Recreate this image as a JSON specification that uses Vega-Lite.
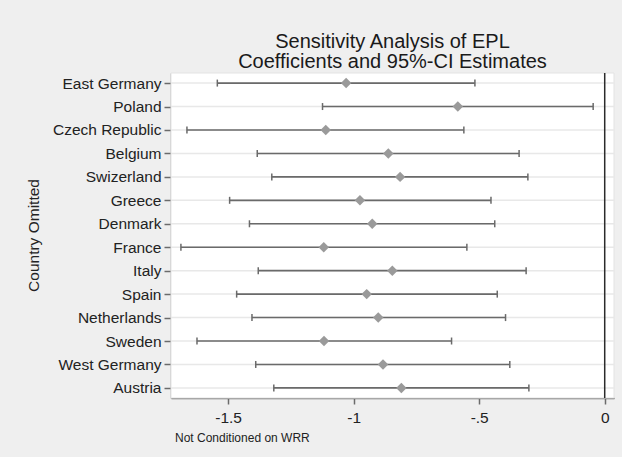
{
  "$schema": "https://vega.github.io/schema/vega-lite/v6.json",
  "width": 443,
  "height": 325,
  "autosize": {"type": "none"},
  "padding": {"left": 171, "top": 73, "right": 8, "bottom": 59},
  "background": "#efefef",
  "config": {
    "view": {"stroke": null},
    "font": "Liberation Sans"
  },
  "title": {
    "text": ["Sensitivity Analysis of EPL", "Coefficients and 95%-CI Estimates"],
    "fontSize": 20,
    "fontWeight": "normal",
    "color": "#1a1a1a",
    "anchor": "middle",
    "offset": 0,
    "lineHeight": 20
  },
  "data": {
    "values": [
      {"country": "East Germany", "lo": -1.543, "est": -1.030, "hi": -0.517},
      {"country": "Poland", "lo": -1.124, "est": -0.585, "hi": -0.046},
      {"country": "Czech Republic", "lo": -1.664, "est": -1.111, "hi": -0.561},
      {"country": "Belgium", "lo": -1.384, "est": -0.862, "hi": -0.341},
      {"country": "Swizerland", "lo": -1.326, "est": -0.815, "hi": -0.306},
      {"country": "Greece", "lo": -1.494, "est": -0.975, "hi": -0.453},
      {"country": "Denmark", "lo": -1.415, "est": -0.926, "hi": -0.438},
      {"country": "France", "lo": -1.688, "est": -1.119, "hi": -0.549},
      {"country": "Italy", "lo": -1.380, "est": -0.846, "hi": -0.313},
      {"country": "Spain", "lo": -1.466, "est": -0.948, "hi": -0.428},
      {"country": "Netherlands", "lo": -1.405, "est": -0.902, "hi": -0.395},
      {"country": "Sweden", "lo": -1.624, "est": -1.118, "hi": -0.610},
      {"country": "West Germany", "lo": -1.390, "est": -0.883, "hi": -0.378},
      {"country": "Austria", "lo": -1.318, "est": -0.810, "hi": -0.302}
    ]
  },
  "layer": [
    {
      "data": {"values": [{"a": -1.7275, "b": 0.037}]},
      "mark": {"type": "rect", "color": "#ffffff", "stroke": "#e3e3e3", "strokeWidth": 1},
      "encoding": {
        "x": {
          "field": "a",
          "type": "quantitative",
          "scale": {"domain": [-1.7275, 0.037], "nice": false, "zero": false},
          "axis": {
            "values": [-1.5, -1, -0.5, 0],
            "labelExpr": "datum.value == -1.5 ? '-1.5' : datum.value == -1 ? '-1' : datum.value == -0.5 ? '-.5' : '0'",
            "grid": false,
            "domainColor": "#6b6b6b",
            "domainWidth": 1.5,
            "tickColor": "#6b6b6b",
            "tickWidth": 1.5,
            "tickSize": 6,
            "labelFontSize": 15.5,
            "labelColor": "#222222",
            "labelPadding": 6,
            "title": "Not Conditioned on WRR",
            "titleFontSize": 12,
            "titleFontWeight": "normal",
            "titleColor": "#222222",
            "titleAnchor": "start",
            "titleAlign": "left",
            "titleBaseline": "alphabetic",
            "titleX": 3.5,
            "titleY": 43
          }
        },
        "x2": {"field": "b"}
      }
    },
    {
      "encoding": {
        "y": {
          "field": "country",
          "type": "nominal",
          "sort": null,
          "scale": {"type": "point", "padding": 0.43},
          "axis": {
            "title": "Country Omitted",
            "titleFontSize": 15.5,
            "titleFontWeight": "normal",
            "titleColor": "#222222",
            "titleAngle": -90,
            "titleAlign": "center",
            "titleBaseline": "alphabetic",
            "titleX": -133,
            "titleY": 162,
            "labelFontSize": 15.5,
            "labelColor": "#222222",
            "labelPadding": 3,
            "tickSize": 7,
            "tickColor": "#6b6b6b",
            "tickWidth": 1.5,
            "domainColor": "#6b6b6b",
            "domainWidth": 1.5,
            "grid": false
          }
        }
      },
      "layer": [
        {
          "mark": {"type": "rule", "color": "#e8e8e8", "strokeWidth": 1.5}
        }
      ]
    },
    {
      "data": {"values": [{"ref": 0}]},
      "mark": {"type": "rule", "color": "#2b2b2b", "strokeWidth": 1.5},
      "encoding": {
        "x": {"field": "ref", "type": "quantitative"}
      }
    },
    {
      "encoding": {
        "y": {"field": "country", "type": "nominal", "sort": null}
      },
      "layer": [
        {
          "mark": {"type": "rule", "color": "#6a6a6a", "strokeWidth": 1.6},
          "encoding": {
            "x": {"field": "lo", "type": "quantitative"},
            "x2": {"field": "hi"}
          }
        },
        {
          "mark": {"type": "tick", "color": "#6a6a6a", "thickness": 1.5, "size": 7, "opacity": 1},
          "encoding": {"x": {"field": "lo", "type": "quantitative"}}
        },
        {
          "mark": {"type": "tick", "color": "#6a6a6a", "thickness": 1.5, "size": 7, "opacity": 1},
          "encoding": {"x": {"field": "hi", "type": "quantitative"}}
        },
        {
          "mark": {"type": "point", "shape": "diamond", "filled": true, "color": "#9a9a9a", "size": 110, "opacity": 1},
          "encoding": {"x": {"field": "est", "type": "quantitative"}}
        }
      ]
    }
  ]
}
